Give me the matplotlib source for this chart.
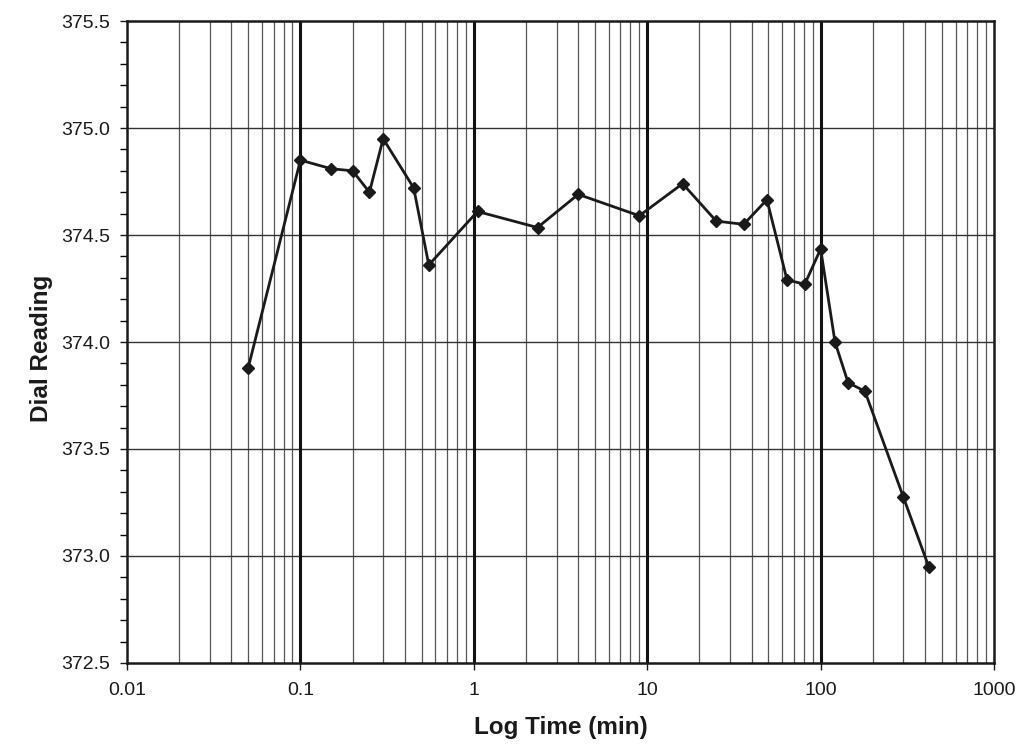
import matplotlib
matplotlib.use("Agg")
import matplotlib.pyplot as plt
import numpy as np
from matplotlib.ticker import FixedLocator, MultipleLocator, NullFormatter

plt.rcParams['font.family'] = ['Liberation Sans', 'DejaVu Sans']

# Log time (min) and dial readings
time_min = [0.05, 0.1, 0.15, 0.2, 0.25, 0.3, 0.45, 0.55, 1.05, 2.33, 4, 9, 16,
            25, 36, 49, 64, 81, 100, 121, 144, 180, 300, 420]
dial = [373.88, 374.85, 374.81, 374.80, 374.70, 374.95, 374.72, 374.36, 374.61,
        374.535, 374.69, 374.59, 374.74, 374.565, 374.55, 374.665, 374.29, 374.27,
        374.435, 374.0, 373.81, 373.77, 373.275, 372.95]

x_ticks = [0.01, 0.1, 1, 10, 100, 1000]
x_labels = ['0.01', '0.1', '1', '10', '100', '1000']

fig = plt.figure(figsize=(10.21, 7.46), dpi=100)
ax = fig.add_axes([0.1244, 0.1113, 0.8492, 0.8605])

ax.set_xscale('log')
ax.set_xlim(0.01, 1000)
ax.set_ylim(372.5, 375.5)

# minor vertical grid lines (2..9 in each decade)
minors = [m * 10.0 ** e for e in range(-2, 3) for m in range(2, 10)]
for v in minors:
    ax.axvline(v, color='#555555', lw=0.9, zorder=1)
for v in x_ticks[1:-1]:
    ax.axvline(v, color='#111111', lw=2.2, zorder=2)
for v in np.arange(373.0, 375.5, 0.5):
    ax.axhline(v, color='#333333', lw=1.0, zorder=1)

ax.plot(time_min, dial, color='#1a1a1a', lw=2.0, marker='D', ms=6,
        markerfacecolor='#1a1a1a', markeredgecolor='#1a1a1a', zorder=5)

ax.xaxis.set_major_locator(FixedLocator(x_ticks))
ax.set_xticklabels(x_labels)
ax.xaxis.set_minor_locator(FixedLocator([]))
ax.xaxis.set_minor_formatter(NullFormatter())
ax.yaxis.set_major_locator(MultipleLocator(0.5))
ax.yaxis.set_minor_locator(MultipleLocator(0.1))
ax.yaxis.set_major_formatter(plt.FuncFormatter(lambda v, p: f'{v:.1f}'))

ax.tick_params(axis='both', which='major', labelsize=14, direction='out',
               length=5, width=1.0, colors='#1a1a1a', labelcolor='#1a1a1a')
ax.tick_params(axis='x', which='major', pad=9)
ax.tick_params(axis='y', which='major', pad=7)
ax.tick_params(axis='y', which='minor', direction='out', length=5, width=1.0)

for s in ax.spines.values():
    s.set_linewidth(1.8)
    s.set_color('#1a1a1a')

ax.set_xlabel('Log Time (min)', fontsize=17.5, fontweight='bold',
              color='#1a1a1a', va='top')
ax.set_ylabel('Dial Reading', fontsize=17.5, fontweight='bold',
              color='#1a1a1a')
ax.xaxis.set_label_coords(0.5, -0.083)
ax.yaxis.set_label_coords(-0.085, 0.49)

fig.savefig('out.png', dpi=100)
